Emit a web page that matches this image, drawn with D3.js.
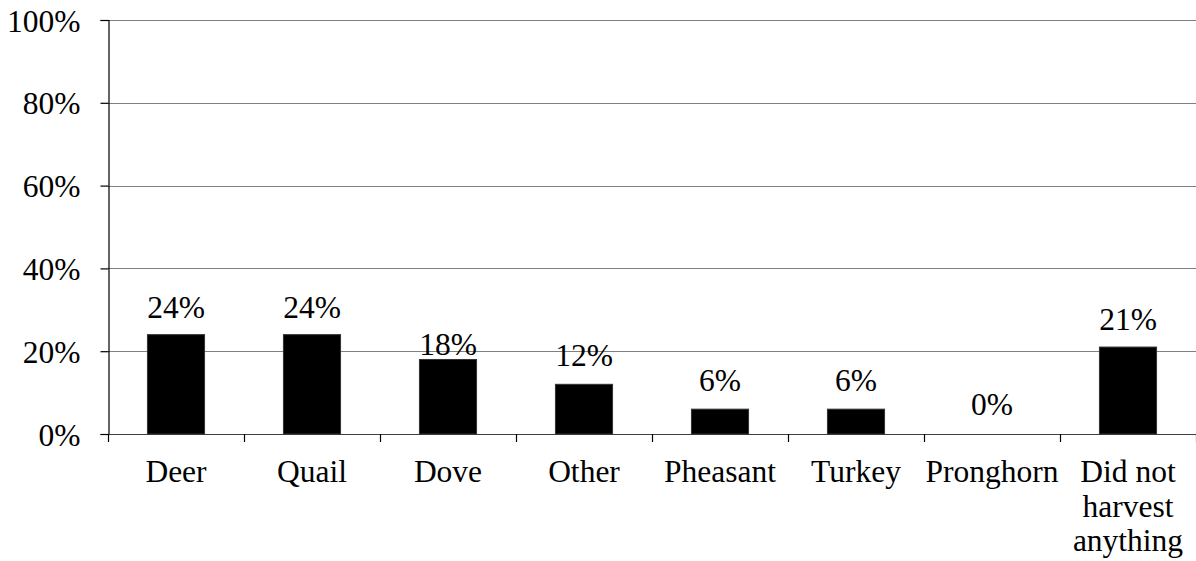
<!DOCTYPE html>
<html>
<head>
<meta charset="utf-8">
<script src="https://cdn.jsdelivr.net/npm/d3@7"></script>
<style>
  html, body { margin: 0; padding: 0; background: #fff; }
  svg { display: block; }
  svg text { font-family: "Liberation Serif", "Times New Roman", serif; fill: #000; }
</style>
</head>
<body>
<svg id="chart" width="1196" height="561"></svg>
<script>
// Data
const categories = ["Deer", "Quail", "Dove", "Other", "Pheasant", "Turkey", "Pronghorn", "Did not harvest anything"];
const values = [24, 24, 18, 12, 6, 6, 0, 21];
const yTicks = [0, 20, 40, 60, 80, 100];
// label gap above bar (px), styling only
const labelGaps = [17, 17, 4, 18, 18, 18, 19, 17];

const W = 1196, H = 561;
const margin = { left: 108, right: 0, top: 20, bottom: 127 };
const svg = d3.select("#chart");

const x = d3.scaleBand()
  .domain(categories)
  .range([margin.left, W - margin.right])
  .paddingInner(0.58)
  .paddingOuter(0.29);

const y = d3.scaleLinear()
  .domain([0, 100])
  .range([434, margin.top]);

const fontSize = 31.5;

// gridlines
svg.append("g")
  .selectAll("line")
  .data(yTicks.filter(d => d > 0))
  .join("line")
  .attr("x1", margin.left)
  .attr("x2", W)
  .attr("y1", d => Math.round(y(d)) + 0.5)
  .attr("y2", d => Math.round(y(d)) + 0.5)
  .attr("stroke", "#808080")
  .attr("stroke-width", 1.2);

// y axis
const yAxis = d3.axisLeft(y)
  .tickValues(yTicks)
  .tickFormat(d => d + "%")
  .tickSize(8)
  .tickPadding(20);

const gy = svg.append("g")
  .attr("transform", `translate(${margin.left + 0.5},0)`)
  .call(yAxis)
  .attr("font-family", null)
  .attr("font-size", fontSize);
gy.select(".domain").attr("stroke", "#000").attr("stroke-width", 1.2);
gy.selectAll(".tick line").attr("stroke", "#000").attr("stroke-width", 1.2);
gy.selectAll(".tick text").attr("dy", "0.35em");

// x axis
const xTickPositions = d3.range(categories.length + 1).map(i => margin.left + i * x.step());
const gx = svg.append("g");
gx.append("line")
  .attr("x1", margin.left).attr("x2", W)
  .attr("y1", y(0) + 0.5).attr("y2", y(0) + 0.5)
  .attr("stroke", "#404040").attr("stroke-width", 1.2);
gx.selectAll("line.tk")
  .data(xTickPositions)
  .join("line")
  .attr("class", "tk")
  .attr("x1", d => Math.round(d) + 0.5)
  .attr("x2", d => Math.round(d) + 0.5)
  .attr("y1", y(0))
  .attr("y2", y(0) + 8)
  .attr("stroke", "#000")
  .attr("stroke-width", 1.2);

// category labels (wrapped)
const wrapped = { "Did not harvest anything": ["Did not", "harvest", "anything"] };
const catG = svg.append("g");
categories.forEach(c => {
  const lines = wrapped[c] || [c];
  const t = catG.append("text")
    .attr("x", x(c) + x.bandwidth() / 2)
    .attr("y", 482)
    .attr("text-anchor", "middle")
    .attr("font-size", fontSize);
  lines.forEach((ln, i) => {
    t.append("tspan")
      .attr("x", x(c) + x.bandwidth() / 2)
      .attr("dy", i === 0 ? 0 : 34.5)
      .text(ln);
  });
});

// bars
svg.append("g")
  .selectAll("rect")
  .data(categories)
  .join("rect")
  .attr("x", d => x(d))
  .attr("width", x.bandwidth())
  .attr("y", (d, i) => y(values[i]))
  .attr("height", (d, i) => y(0) - y(values[i]))
  .attr("fill", "#000")
  .attr("stroke", "#333")
  .attr("stroke-width", 1);

// value labels
svg.append("g")
  .selectAll("text")
  .data(categories)
  .join("text")
  .attr("x", d => x(d) + x.bandwidth() / 2)
  .attr("y", (d, i) => y(values[i]) - labelGaps[i])
  .attr("text-anchor", "middle")
  .attr("font-size", fontSize)
  .text((d, i) => values[i] + "%");
</script>
</body>
</html>
